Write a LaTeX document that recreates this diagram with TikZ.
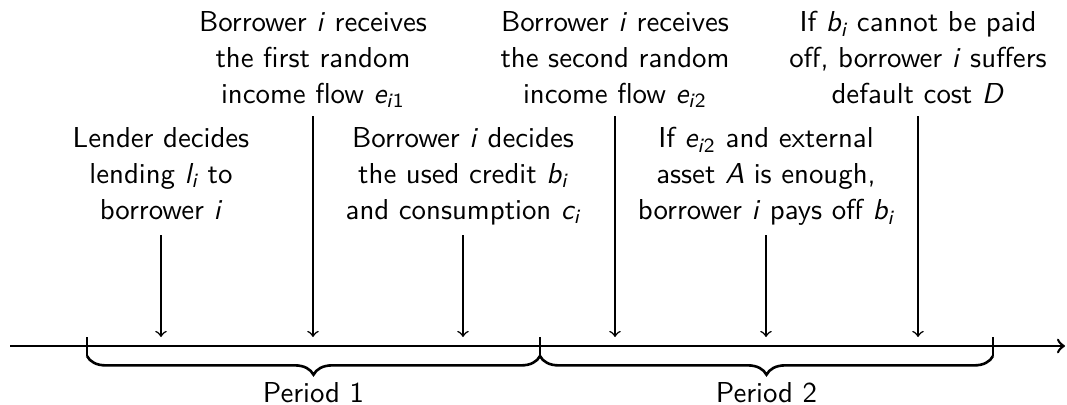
\documentclass[tikz,border=0pt]{standalone}
\usepackage{amsmath}
\usetikzlibrary{decorations.pathreplacing}
\newcommand\mv[1]{\textit{#1}}
\tikzset{
	event/.style={anchor=north, inner sep=0pt, align=center, font=\sffamily\fontsize{10}{12.5}\selectfont},
	drop/.style={->, line width=0.55pt},
	period/.style={decorate, decoration={brace, mirror, amplitude=6.5pt}, line width=0.9pt},
	plabel/.style={anchor=base, inner sep=0pt, font=\sffamily\fontsize{10}{12.5}\selectfont}
}
\begin{document}
\begin{tikzpicture}[x=0.347pt,y=0.347pt,yscale=-1,xscale=1]
	\useasboundingbox (0,0) rectangle (1067,405);

	%Time axis
	\coordinate (start) at (10,346);
	\coordinate (end) at (1065,346);
	\draw [line width=0.9pt, ->] (start) -- (end);
	%Ticks
	\draw [line width=0.9pt] (87,337) -- (87,356);
	\draw [line width=0.9pt] (540,337) -- (540,356);
	\draw [line width=0.9pt] (993,337) -- (993,356);

	%Braces
	\draw [period] (87,356) -- (540,356);
	\draw [period] (540,356) -- (993,356);
	% Text Node
	\node (per1) [plabel] at (313.5,403) {Period 1};
	% Text Node
	\node (per2) [plabel] at (766.5,403) {Period 2};

	%Marks on the axis
	\coordinate (m1) at (161,337);
	\coordinate (m2) at (313,337);
	\coordinate (m3) at (463,337);
	\coordinate (m4) at (615,337);
	\coordinate (m5) at (766,337);
	\coordinate (m6) at (918,337);

	% Text Node
	\node (lend) [event] at (161,127) {Lender decides\\lending $\mv{l}_{\mv{i}}$ to\\borrower \mv{i}};
	% Text Node
	\node (inc1) [event] at (313,11) {Borrower \mv{i} receives\\the first random\\income flow $\mv{e}_{\text{\mv{i}1}}$};
	% Text Node
	\node (use) [event] at (463,127) {Borrower \mv{i} decides\\the used credit $\mv{b}_{\mv{i}}$\\and consumption $\mv{c}_{\mv{i}}$};
	% Text Node
	\node (inc2) [event] at (615,11) {Borrower \mv{i} receives\\the second random\\income flow $\mv{e}_{\text{\mv{i}2}}$};
	% Text Node
	\node (pay) [event] at (766,127) {If $\mv{e}_{\text{\mv{i}2}}$ and external\\asset \mv{A} is enough,\\borrower \mv{i} pays off $\mv{b}_{\mv{i}}$};
	% Text Node
	\node (dflt) [event] at (918,11) {If $\mv{b}_{\mv{i}}$ cannot be paid\\off, borrower \mv{i} suffers\\default cost \mv{D}};

	%Arrows
	\draw [drop] (lend.south |- 0,235) -- (m1);
	\draw [drop] (inc1.south |- 0,116) -- (m2);
	\draw [drop] (use.south |- 0,235) -- (m3);
	\draw [drop] (inc2.south |- 0,116) -- (m4);
	\draw [drop] (pay.south |- 0,235) -- (m5);
	\draw [drop] (dflt.south |- 0,116) -- (m6);

\end{tikzpicture}
\end{document}
